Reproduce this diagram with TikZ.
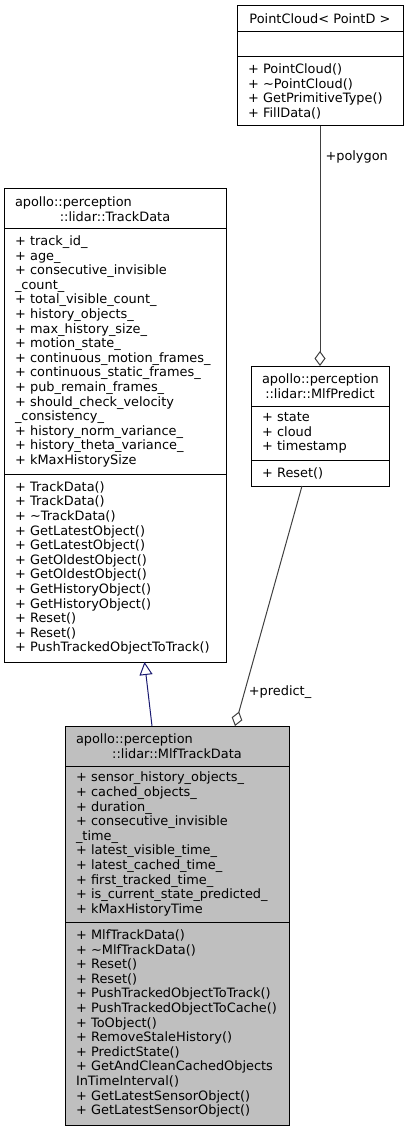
\documentclass[tikz,border=0pt]{standalone}
\usepackage{fontspec}
\setmainfont{DejaVu Sans}
\usepackage{tikz}
\usetikzlibrary{positioning}
\usetikzlibrary{arrows.meta}

\definecolor{midnightblue}{HTML}{191970}
\definecolor{grey25}{HTML}{404040}
\definecolor{grey75}{HTML}{BFBFBF}

\begin{document}
\begin{tikzpicture}[x=1pt,y=-1pt]

\tikzset{class part/.style={
		draw, line width=1pt, outer sep=0pt, fill=white,
		text width=#1, align=left,
		inner xsep=11pt, inner ysep=1pt,
		font=\fontsize{12.9}{14.6}\selectfont
	},
	class part/.default=200pt,
	class title/.style={class part=#1, align=center},
	inherit/.style={draw=midnightblue, line width=1pt,
		-{Triangle[length=13pt, width=13pt, fill=white]}},
	usage/.style={draw=grey25, line width=1pt,
		-{Diamond[length=15pt, width=11pt, fill=white]}},
	edge label/.style={anchor=west, inner sep=0pt,
		font=\fontsize{12.9}{14.6}\selectfont}
}

\useasboundingbox (0,0) rectangle (408,1131);

% PointCloud
\node[class title=144pt, minimum height=26pt, anchor=north west] (pc) at (237,6) {PointCloud< PointD >};
\node[class part=144pt, minimum height=25pt, below=0pt of pc] (pcattr) {};
\node[class part=144pt, minimum height=69pt, below=0pt of pcattr] (pcmeth)
	{+~PointCloud()\\+~\textasciitilde PointCloud()\\+~GetPrimitiveType()\\+~FillData()};

% MlfPredict
\node[class title=116pt, minimum height=40pt, anchor=north west] (mp) at (251,366)
	{\makebox[\linewidth][l]{apollo::perception}\\::lidar::MlfPredict};
\node[class part=116pt, minimum height=54pt, below=0pt of mp] (mpattr)
	{+~state\\+~cloud\\+~timestamp};
\node[class part=116pt, minimum height=26pt, below=0pt of mpattr] (mpmeth) {+~Reset()};

% TrackData
\node[class title=200pt, minimum height=40pt, anchor=north west] (td) at (4,189)
	{\makebox[\linewidth][l]{apollo::perception}\\::lidar::TrackData};
\node[class part=200pt, minimum height=245pt, below=0pt of td] (tdattr)
	{+~track\_id\_\\+~age\_\\+~consecutive\_invisible\\\_count\_\\+~total\_visible\_count\_\\%
	+~history\_objects\_\\+~max\_history\_size\_\\+~motion\_state\_\\+~continuous\_motion\_frames\_\\%
	+~continuous\_static\_frames\_\\+~pub\_remain\_frames\_\\+~should\_check\_velocity\\\_consistency\_\\%
	+~history\_norm\_variance\_\\+~history\_theta\_variance\_\\+~kMaxHistorySize};
\node[class part=200pt, minimum height=188pt, below=0pt of tdattr] (tdmeth)
	{+~TrackData()\\+~TrackData()\\+~\textasciitilde TrackData()\\+~GetLatestObject()\\+~GetLatestObject()\\%
	+~GetOldestObject()\\+~GetOldestObject()\\+~GetHistoryObject()\\+~GetHistoryObject()\\%
	+~Reset()\\+~Reset()\\+~PushTrackedObjectToTrack()};

% MlfTrackData
\node[class title=202pt, fill=grey75, minimum height=40pt, anchor=north west] (mtd) at (65,726)
	{\makebox[\linewidth][l]{apollo::perception}\\::lidar::MlfTrackData};
\node[class part=202pt, fill=grey75, minimum height=156pt, below=0pt of mtd] (mtdattr)
	{+~sensor\_history\_objects\_\\+~cached\_objects\_\\+~duration\_\\+~consecutive\_invisible\\\_time\_\\%
	+~latest\_visible\_time\_\\+~latest\_cached\_time\_\\+~first\_tracked\_time\_\\%
	+~is\_current\_state\_predicted\_\\+~kMaxHistoryTime};
\node[class part=202pt, fill=grey75, minimum height=203pt, below=0pt of mtdattr] (mtdmeth)
	{+~MlfTrackData()\\+~\textasciitilde MlfTrackData()\\+~Reset()\\+~Reset()\\+~PushTrackedObjectToTrack()\\%
	+~PushTrackedObjectToCache()\\+~ToObject()\\+~RemoveStaleHistory()\\+~PredictState()\\%
	+~GetAndCleanCachedObjects\\InTimeInterval()\\+~GetLatestSensorObject()\\+~GetLatestSensorObject()};

% relations
\draw[inherit] ([xshift=-25pt]mtd.north) -- ([xshift=29.5pt]tdmeth.south);
\draw[usage] (pcmeth.south) -- node[edge label, pos=0.13, xshift=5pt] (polygonlbl) {+polygon} (mp.north);
\draw[usage] ([xshift=-18pt]mpmeth.south) -- node[edge label, pos=0.86, xshift=4pt] (predictlbl) {+predict\_} ([xshift=58pt]mtd.north);

\end{tikzpicture}
\end{document}
